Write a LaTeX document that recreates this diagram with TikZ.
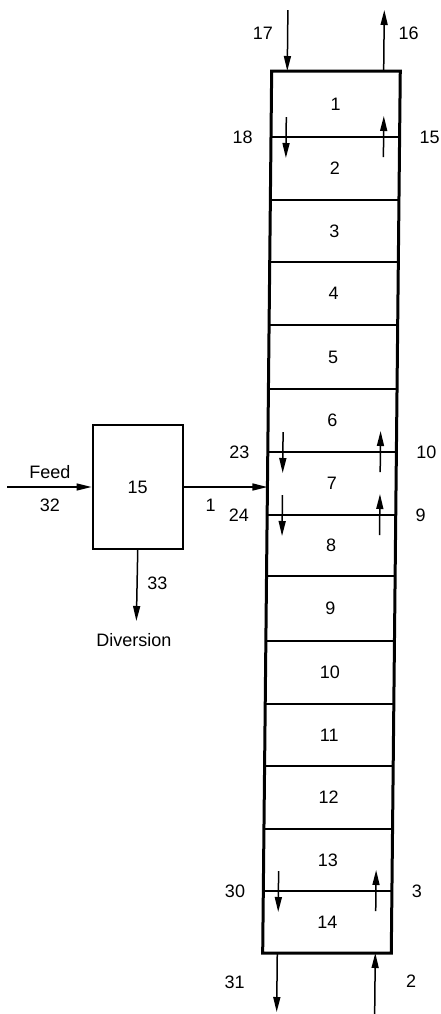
\documentclass[tikz,border=0pt]{standalone}
\usepackage{fontspec}
\setmainfont{Liberation Sans}
\usetikzlibrary{arrows.meta}
\begin{document}
\begin{tikzpicture}[x=0.5pt,y=-0.5pt,
  wall/.style={line width=1.5pt,line join=miter},
  tray/.style={line width=1pt},
  flow/.style={line width=0.75pt,-{Triangle[length=7.5pt,width=3.5pt]}},
  lbl/.style={font=\fontsize{9}{11}\selectfont,inner sep=0pt},
]
\useasboundingbox (0,0) rectangle (440,1014);
\begin{scope}[xslant=0.0102]
  % column shell
  \coordinate (ctl) at (272.4,71);
  \coordinate (ctr) at (401,71);
  \coordinate (cbr) at (401,953);
  \coordinate (cbl) at (272.4,953);
  \draw[wall] (ctl) -- (ctr) -- (cbr) -- (cbl) -- cycle;

  % trays between stages
  \foreach \y in {137,200,262,325,389,452,515,576,641,704,766,829,891}
    \draw[tray] (272.4,\y) -- (401,\y);

  % stage numbers
  \foreach \i/\y in {1/104,2/168.5,3/231,4/293.5,5/357,6/420.5,7/483.5,
                     8/545.5,9/608.5,10/672.5,11/735,12/797.5,13/860,14/922}
    \node[lbl] (s\i) at (336.7,\y) {\i};

  % side draw-offs and returns at selected trays
  \foreach \y/\l/\r/\k in {137/18/15/a,452/23/10/b,515/24/9/c,891/30/3/d}{
    \coordinate (dn\k a) at (287.5,\y-20);
    \coordinate (dn\k b) at (287.5,\y+21);
    \coordinate (up\k a) at (385,\y+20);
    \coordinate (up\k b) at (385,\y-21);
    \draw[flow] (dn\k a) -- (dn\k b);
    \draw[flow] (up\k a) -- (up\k b);
    \node[lbl,anchor=east] (L\k) at (254.5,\y) {\l};
    \node[lbl,anchor=west] (R\k) at (420.5,\y) {\r};
  }

  % top streams
  \coordinate (in17) at (288,10);
  \coordinate (at17) at (288,71);
  \coordinate (at16) at (384.4,71);
  \coordinate (out16) at (384.4,10);
  \draw[flow] (in17) -- (at17);
  \draw[flow] (at16) -- (out16);
  \node[lbl,anchor=east] (t17) at (273.6,33) {17};
  \node[lbl,anchor=west] (t16) at (398.6,33) {16};

  % bottom streams
  \coordinate (at31) at (287,953);
  \coordinate (out31) at (287,1012);
  \coordinate (in2) at (385,1014);
  \coordinate (at2) at (385,953);
  \draw[flow] (at31) -- (out31);
  \draw[flow] (in2) -- (at2);
  \node[lbl,anchor=east] (b31) at (255,982) {31};
  \node[lbl,anchor=west] (b2) at (415.7,981) {2};

  % feed splitter
  \node[draw,line width=1.2pt,minimum width=45pt,minimum height=62pt,
        inner sep=0pt,font=\fontsize{9}{11}\selectfont] (mix) at (142.7,487) {15};
  \coordinate (feedin) at (12,487);
  \coordinate (feed7) at (272.4,487);
  \coordinate (divout) at (142.7,621);
  \draw[flow] (feedin) -- (mix.west);
  \draw[flow] (mix.east) -- (feed7);
  \draw[flow] (mix.south) -- (divout);
  \node[lbl] (feedlbl) at (54.8,471.7) {Feed};
  \node[lbl] (f32) at (55,505) {32};
  \node[lbl] (f1) at (215.9,505) {1};
  \node[lbl,anchor=west] (d33) at (153,583) {33};
  \node[lbl] (divlbl) at (140.5,640) {Diversion};
\end{scope}
\end{tikzpicture}
\end{document}
